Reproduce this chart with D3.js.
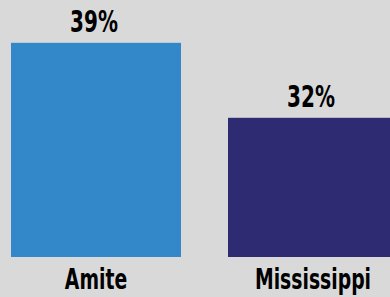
<!DOCTYPE html>
<html>
<head>
<meta charset="utf-8">
<script src="https://cdn.jsdelivr.net/npm/d3@7"></script>
<style>
  html, body { margin: 0; padding: 0; background: #d9d9d9; }
  text { font-family: "DejaVu Sans Condensed", "DejaVu Sans", sans-serif; font-weight: bold; }
</style>
</head>
<body>
<div id="chart"></div>
<script>
const categories = ["Amite", "Mississippi"];
const values = [39, 32];
const colors = ["#3288c8", "#2e2b73"];

const width = 390, height = 297;

const svg = d3.select("#chart")
    .append("svg")
    .attr("width", width)
    .attr("height", height);

svg.append("rect")
    .attr("width", width)
    .attr("height", height)
    .style("fill", "#d9d9d9");

const x = d3.scaleBand()
    .domain(categories)
    .range([11, 398])
    .paddingInner(0.2166)
    .paddingOuter(0);

// axis is not zero based in the original
const y = d3.scaleLinear()
    .domain([19, 43])
    .range([257, 0]);

// squeeze the text to look like a condensed face
const condense = k => sel => sel.each(function() {
    const w = this.getComputedTextLength();
    d3.select(this)
        .attr("textLength", w * k)
        .attr("lengthAdjust", "spacingAndGlyphs");
});

svg.selectAll(".bar")
    .data(values)
    .enter()
    .append("rect")
    .attr("class", "bar")
    .attr("x", (d, i) => x(categories[i]))
    .attr("y", d => y(d))
    .attr("width", x.bandwidth())
    .attr("height", d => y(19) - y(d))
    .style("fill", (d, i) => colors[i]);

svg.selectAll(".val")
    .data(values)
    .enter()
    .append("text")
    .attr("class", "val")
    .attr("x", (d, i) => x(categories[i]) + x.bandwidth() / 2 - 2)
    .attr("y", d => y(d) - 11)
    .attr("text-anchor", "middle")
    .style("font-size", "30px")
    .text(d => d + "%")
    .call(condense(0.74));

svg.selectAll(".cat")
    .data(categories)
    .enter()
    .append("text")
    .attr("class", "cat")
    .attr("x", d => x(d) + x.bandwidth() / 2)
    .attr("y", 289)
    .attr("text-anchor", "middle")
    .style("font-size", "29px")
    .text(d => d)
    .call(condense(0.72));
</script>
</body>
</html>
